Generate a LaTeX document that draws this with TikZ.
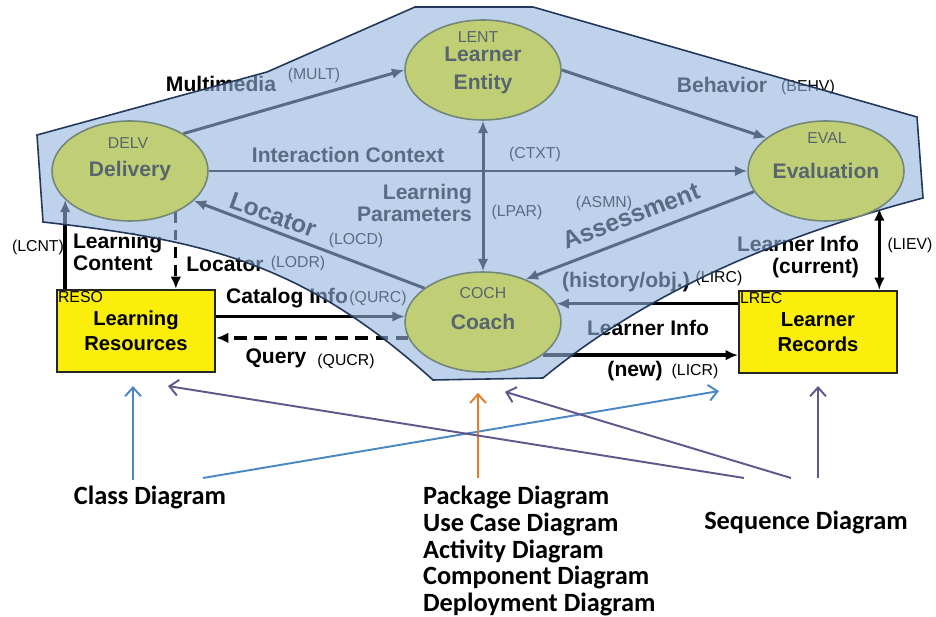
\documentclass[tikz,border=0pt]{standalone}
\usepackage{fontspec}
\setmainfont{Liberation Sans}
\newfontfamily\calfont{Carlito}
\usetikzlibrary{arrows.meta,calc,shapes.geometric}
\definecolor{hullfill}{RGB}{147,180,222}
\definecolor{hulledge}{RGB}{35,55,90}
\definecolor{elfill}{RGB}{192,207,118}
\definecolor{elline}{RGB}{115,135,120}
\definecolor{eltext}{RGB}{88,100,110}
\definecolor{recfill}{RGB}{250,238,10}
\definecolor{clsblue}{RGB}{75,135,195}
\definecolor{pkgorange}{RGB}{230,125,45}
\definecolor{seqpurple}{RGB}{100,85,140}
\pgfdeclarelayer{under}
\pgfdeclarelayer{veil}
\pgfsetlayers{under,veil,main}
\tikzset{
  el/.style={
    draw=elline,
    fill=elfill,
    ellipse,
    line width=0.9pt,
    minimum width=3.12cm,
    minimum height=2cm,
    inner sep=0pt,
    align=center,
    text=eltext,
    font=\bfseries\fontsize{12}{16}\selectfont,
  },
  eltag/.style={
    text=eltext,
    font=\fontsize{9}{10}\selectfont,
  },
  rect/.style={
    draw=black!85,
    fill=recfill,
    line width=1.2pt,
    minimum width=3.16cm,
    minimum height=1.64cm,
    align=center,
    font=\bfseries\fontsize{11.5}{14.5}\selectfont,
  },
  rectag/.style={
    anchor=north west,
    inner sep=1pt,
    font=\fontsize{9}{10}\selectfont,
  },
  lab/.style={
    inner sep=1pt,
    align=center,
    font=\bfseries\fontsize{12}{12.5}\selectfont,
  },
  tag/.style={
    inner sep=1pt,
    font=\fontsize{9}{10}\selectfont,
  },
  flow/.style={
    line width=1.7pt,
    -{Latex[length=7pt,width=6pt]},
  },
  hull/.style={
    draw=hulledge,
    line width=0.9pt,
    fill=hullfill,
    fill opacity=0.6,
  },
  diag/.style={
    inner sep=1pt,
    align=left,
    font=\calfont\bfseries\fontsize{15}{15.3}\selectfont,
  },
  uml/.style={
    line width=1.1pt,
    -{Straight Barb[length=5pt,width=9pt]},
  },
}

\begin{document}
\begin{tikzpicture}[x=0.02cm,y=-0.02cm]
  \useasboundingbox (0,0) rectangle (936,617);

  % components
  \node[el] (delv) at (130,171) {Delivery};
  \node[el] (lent) at (483,70) {Learner\\Entity};
  \node[el] (eval) at (826,171) {Evaluation};
  \node[el] (coch) at (483,322) {Coach};
  \node[eltag] (delv-id) at ($(delv)+(-2,-28)$) {DELV};
  \node[eltag] (lent-id) at ($(lent)+(-5,-33)$) {LENT};
  \node[eltag] (eval-id) at ($(eval)+(1,-33)$) {EVAL};
  \node[eltag] (coch-id) at ($(coch)+(0,-29)$) {COCH};

  \node[rect] (reso) at (136,331) {Learning\\Resources};
  \node[rect] (lrec) at (818,332) {Learner\\Records};
  \node[rectag] (reso-id) at (reso.north west) {RESO};
  \node[rectag] (lrec-id) at (lrec.north west) {LREC};

  \begin{pgfonlayer}{under}
    % data flows
    \draw[flow] (delv.35) -- (lent.west);
    \draw[flow] (lent.east) -- (eval.151);
    \draw[flow] (delv.east) -- (eval.west);
    \draw[flow, {Latex[length=7pt,width=6pt]}-{Latex[length=7pt,width=6pt]}]
      (lent.south) -- (coch.north);
    \draw[flow] (coch.150) -- (delv.-25);
    \draw[flow] (eval.196) -- (coch.45);
    \draw[flow, line width=2pt] (reso.north -| delv.204) -- (delv.204);
    \draw[flow, dashed, dash pattern=on 6pt off 4pt] (delv.-42) -- (delv.-42 |- reso.north);
    \draw[flow, line width=2pt] (reso.east |- coch.176) -- (coch.176);
    \draw[flow, line width=2pt, dash pattern=on 7pt off 4.5pt] (coch.192) -- (coch.192 -| reso.east);
    \draw[flow, line width=2pt] (lrec.west |- coch.14) -- (coch.14);
    \draw[flow, line width=2pt] (coch.-29) -- (coch.-29 -| lrec.west);
    \draw[flow, line width=1.8pt, {Latex[length=7pt,width=6pt]}-{Latex[length=7pt,width=6pt]}]
      (eval.-35) -- (eval.-35 |- lrec.north);

    % labels
    \node[lab] (mult-l) at (221,84) {Multimedia};
    \node[tag] (mult-t) at (314,75) {(MULT)};
    \node[lab] (behv-l) at (722,85) {Behavior};
    \node[tag] (behv-t) at (808,87) {(BEHV)};
    \node[lab] (ctxt-l) at (348,155) {Interaction Context};
    \node[tag] (ctxt-t) at (535,154) {(CTXT)};
    \node[lab, align=right, anchor=east] (lpar-l) at (474,203) {Learning\\Parameters};
    \node[tag] (lpar-t) at (517,212) {(LPAR)};
    \node[lab, rotate=-20, font=\bfseries\fontsize{14}{14}\selectfont] (locd-l) at (273,215) {Locator};
    \node[tag] (locd-t) at (356,240) {(LOCD)};
    \node[lab, rotate=21, font=\bfseries\fontsize{14}{14}\selectfont] (asmn-l) at (631,216) {Assessment};
    \node[tag] (asmn-t) at (604,203) {(ASMN)};
    \node[lab, align=left, anchor=west] (lcnt-l) at (71,252) {Learning\\Content};
    \node[tag] (lcnt-t) at (38,247) {(LCNT)};
    \node[lab] (lodr-l) at (225,264) {Locator};
    \node[tag] (lodr-t) at (298,263) {(LODR)};
    \node[lab] (qurc-l) at (287,298) {Catalog Info};
    \node[tag] (qurc-t) at (378,298) {(QURC)};
    \node[lab] (qucr-l) at (276,358) {Query};
    \node[tag] (qucr-t) at (346,361) {(QUCR)};
    \node[lab] (lirc-l) at (626,282) {(history/obj.)};
    \node[tag] (lirc-t) at (719,278) {(LIRC)};
    \node[lab] (licr-l) at (648,328) {Learner Info};
    \node[lab] (licr-n) at (635,371) {(new)};
    \node[tag] (licr-t) at (695,371) {(LICR)};
    \node[lab, align=right, anchor=east] (liev-l) at (861,257) {Learner Info\\(current)};
    \node[tag] (liev-t) at (910,245) {(LIEV)};
  \end{pgfonlayer}

  % system boundary
  \begin{pgfonlayer}{veil}
    \draw[hull] (37,135) -- (267,72) -- (415,7) -- (533,7) -- (917,117) -- (923,198)
      .. controls (780,236) and (650,290) .. (543,378) -- (433,380)
      .. controls (300,260) and (200,240) .. (43,222) -- cycle;
  \end{pgfonlayer}

  % UML views
  \node[diag] (cls) at (150,497) {Class Diagram};
  \node[diag, anchor=west] (pkg) at (421,551) {Package Diagram\\Use Case Diagram\\Activity Diagram\\Component Diagram\\Deployment Diagram};
  \node[diag] (seq) at (806,522) {Sequence Diagram};

  \draw[uml, clsblue] ($(cls)+(-17,-17)$) -- ($(reso.south)+(-3,13)$);
  \draw[uml, clsblue] ($(cls)+(53,-19)$) -- ($(lrec.south west)+(-19,17)$);
  \draw[uml, pkgorange] ($(pkg.west)+(57,-73)$) -- ($(coch.south)+(-5,20)$);
  \draw[uml, seqpurple] ($(seq)+(-62,-44)$) -- ($(reso.south)+(32,13)$);
  \draw[uml, seqpurple] ($(seq)+(-15,-44)$) -- ($(coch.south)+(22,19)$);
  \draw[uml, seqpurple] ($(seq)+(12,-44)$) -- ($(lrec.south)+(0,12)$);
\end{tikzpicture}
\end{document}
